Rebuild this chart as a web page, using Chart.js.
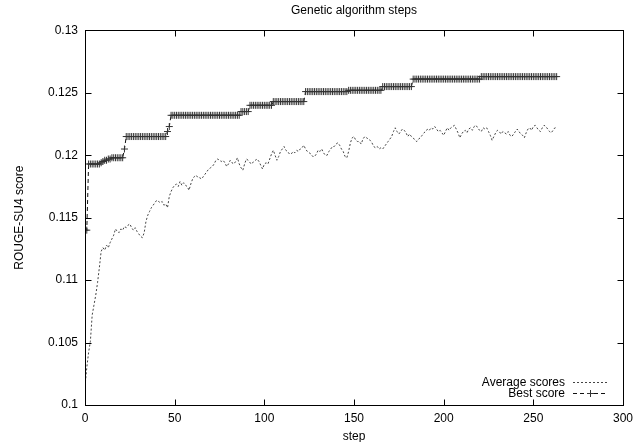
<!DOCTYPE html>
<html>
<head>
<meta charset="utf-8">
<title>Genetic algorithm steps</title>
<script src="https://cdn.jsdelivr.net/npm/chart.js@4/dist/chart.umd.min.js"></script>
<style>
  body { margin: 0; background: #fff; }
  #wrap { width: 634px; height: 442px; }
</style>
</head>
<body>
<div id="wrap"><canvas id="gaChart" width="634" height="442"></canvas></div>
<script>
// Chart data
const seriesNames = ['Average scores', 'Best score'];

const averageScores = [
  0.1015, 0.1030, 0.1042, 0.1051, 0.1072, 0.1080, 0.1088, 0.1098, 0.1110, 0.1123,
  0.1126, 0.1124, 0.1128, 0.1126, 0.1130, 0.1133, 0.1136, 0.1141, 0.1139, 0.1138,
  0.1141, 0.1140, 0.1143, 0.1142, 0.1144, 0.1145, 0.1142, 0.1140, 0.1142, 0.1139,
  0.1137, 0.1135, 0.1134, 0.1138, 0.1147, 0.1152, 0.1155, 0.1158, 0.1160, 0.1162,
  0.1164, 0.1163, 0.1162, 0.1163, 0.1160, 0.1161, 0.1158, 0.1167, 0.1171, 0.1174,
  0.1176, 0.1177, 0.1175, 0.1179, 0.1176, 0.1178, 0.1176, 0.1175, 0.1172, 0.1177,
  0.1181, 0.1183, 0.1184, 0.1182, 0.1182, 0.1181, 0.1183, 0.1185, 0.1187, 0.1189,
  0.1190, 0.1191, 0.1193, 0.1196, 0.1197, 0.1196, 0.1195, 0.1196, 0.1194, 0.1191,
  0.1193, 0.1196, 0.1194, 0.1193, 0.1195, 0.1198, 0.1193, 0.1190, 0.1188, 0.1193,
  0.1197, 0.1196, 0.1194, 0.1193, 0.1195, 0.1196, 0.1197, 0.1195, 0.1192, 0.1189,
  0.1193, 0.1194, 0.1193, 0.1197, 0.1201, 0.1204, 0.1200, 0.1196, 0.1199, 0.1203,
  0.1205, 0.1207, 0.1204, 0.1203, 0.1201, 0.1201, 0.1203, 0.1202, 0.1204, 0.1203,
  0.1205, 0.1206, 0.1208, 0.1205, 0.1203, 0.1202, 0.1201, 0.1199, 0.1199, 0.1201,
  0.1204, 0.1203, 0.1205, 0.1202, 0.1200, 0.1200, 0.1203, 0.1205, 0.1207, 0.1207,
  0.1209, 0.1210, 0.1208, 0.1205, 0.1203, 0.1199, 0.1198, 0.1203, 0.1210, 0.1214,
  0.1215, 0.1212, 0.1211, 0.1211, 0.1209, 0.1213, 0.1215, 0.1214, 0.1213, 0.1212,
  0.1210, 0.1207, 0.1206, 0.1207, 0.1205, 0.1206, 0.1205, 0.1207, 0.1209, 0.1211,
  0.1213, 0.1215, 0.1219, 0.1222, 0.1219, 0.1217, 0.1219, 0.1221, 0.1220, 0.1218,
  0.1215, 0.1217, 0.1215, 0.1214, 0.1212, 0.1211, 0.1213, 0.1214, 0.1216, 0.1218,
  0.1219, 0.1221, 0.1220, 0.1222, 0.1221, 0.1223, 0.1221, 0.1219, 0.1220, 0.1218,
  0.1216, 0.1219, 0.1222, 0.1220, 0.1222, 0.1223, 0.1224, 0.1221, 0.1218, 0.1214,
  0.1217, 0.1219, 0.1220, 0.1218, 0.1221, 0.1222, 0.1220, 0.1223, 0.1224, 0.1222,
  0.1220, 0.1219, 0.1222, 0.1221, 0.1222, 0.1219, 0.1216, 0.1212, 0.1215, 0.1218,
  0.1220, 0.1219, 0.1217, 0.1219, 0.1218, 0.1217, 0.1219, 0.1216, 0.1215, 0.1217,
  0.1219, 0.1221, 0.1219, 0.1217, 0.1216, 0.1214, 0.1218, 0.1221, 0.1222, 0.1220,
  0.1223, 0.1224, 0.1222, 0.1220, 0.1219, 0.1222, 0.1224, 0.1223, 0.1221, 0.1219,
  0.1218, 0.1220, 0.1222, 0.1222
];

const bestScores = [
  0.1140, 0.1140, 0.1193, 0.1193, 0.1193, 0.1193, 0.1193, 0.1193, 0.1193, 0.1194,
  0.1195, 0.1196, 0.1196, 0.1197, 0.1197, 0.1198, 0.1198, 0.1198, 0.1198, 0.1198,
  0.1198, 0.1198, 0.1205, 0.1215, 0.1215, 0.1215, 0.1215, 0.1215, 0.1215, 0.1215,
  0.1215, 0.1215, 0.1215, 0.1215, 0.1215, 0.1215, 0.1215, 0.1215, 0.1215, 0.1215,
  0.1215, 0.1215, 0.1215, 0.1215, 0.1215, 0.1215, 0.1219, 0.1223, 0.1232, 0.1232,
  0.1232, 0.1232, 0.1232, 0.1232, 0.1232, 0.1232, 0.1232, 0.1232, 0.1232, 0.1232,
  0.1232, 0.1232, 0.1232, 0.1232, 0.1232, 0.1232, 0.1232, 0.1232, 0.1232, 0.1232,
  0.1232, 0.1232, 0.1232, 0.1232, 0.1232, 0.1232, 0.1232, 0.1232, 0.1232, 0.1232,
  0.1232, 0.1232, 0.1232, 0.1232, 0.1232, 0.1232, 0.1232, 0.1235, 0.1235, 0.1235,
  0.1235, 0.1235, 0.1240, 0.1240, 0.1240, 0.1240, 0.1240, 0.1240, 0.1240, 0.1240,
  0.1240, 0.1240, 0.1240, 0.1240, 0.1240, 0.1243, 0.1243, 0.1243, 0.1243, 0.1243,
  0.1243, 0.1243, 0.1243, 0.1243, 0.1243, 0.1243, 0.1243, 0.1243, 0.1243, 0.1243,
  0.1243, 0.1243, 0.1243, 0.1251, 0.1251, 0.1251, 0.1251, 0.1251, 0.1251, 0.1251,
  0.1251, 0.1251, 0.1251, 0.1251, 0.1251, 0.1251, 0.1251, 0.1251, 0.1251, 0.1251,
  0.1251, 0.1251, 0.1251, 0.1251, 0.1251, 0.1251, 0.1251, 0.1252, 0.1252, 0.1252,
  0.1252, 0.1252, 0.1252, 0.1252, 0.1252, 0.1252, 0.1252, 0.1252, 0.1252, 0.1252,
  0.1252, 0.1252, 0.1252, 0.1252, 0.1252, 0.1252, 0.1255, 0.1255, 0.1255, 0.1255,
  0.1255, 0.1255, 0.1255, 0.1255, 0.1255, 0.1255, 0.1255, 0.1255, 0.1255, 0.1255,
  0.1255, 0.1255, 0.1255, 0.1261, 0.1261, 0.1261, 0.1261, 0.1261, 0.1261, 0.1261,
  0.1261, 0.1261, 0.1261, 0.1261, 0.1261, 0.1261, 0.1261, 0.1261, 0.1261, 0.1261,
  0.1261, 0.1261, 0.1261, 0.1261, 0.1261, 0.1261, 0.1261, 0.1261, 0.1261, 0.1261,
  0.1261, 0.1261, 0.1261, 0.1261, 0.1261, 0.1261, 0.1261, 0.1261, 0.1261, 0.1261,
  0.1261, 0.1263, 0.1263, 0.1263, 0.1263, 0.1263, 0.1263, 0.1263, 0.1263, 0.1263,
  0.1263, 0.1263, 0.1263, 0.1263, 0.1263, 0.1263, 0.1263, 0.1263, 0.1263, 0.1263,
  0.1263, 0.1263, 0.1263, 0.1263, 0.1263, 0.1263, 0.1263, 0.1263, 0.1263, 0.1263,
  0.1263, 0.1263, 0.1263, 0.1263, 0.1263, 0.1263, 0.1263, 0.1263, 0.1263, 0.1263,
  0.1263, 0.1263, 0.1263, 0.1263
];

// step number for each value (0, 1, 2, ...)
const steps = averageScores.map((v, i) => i);

// axis ranges and tick spacing
const xTicks = { min: 0, max: 300, step: 50 };
const yTicks = { min: 0.1, max: 0.13, step: 0.005 };

const FONT = "'Liberation Sans', Arial, Helvetica, sans-serif";

// gnuplot look: box around the plot, ticks pointing inward on all four sides,
// and the key inside the bottom right corner
const gnuplotFrame = {
  id: 'gnuplotFrame',
  afterDraw(chart) {
    const ctx = chart.ctx;
    const a = chart.chartArea;
    const xs = chart.scales.x, ys = chart.scales.y;
    const L = Math.round(a.left) + 0.5, R = Math.round(a.right) + 0.5;
    const T = Math.round(a.top) + 0.5, B = Math.round(a.bottom) + 0.5;
    const tl = 6;

    ctx.save();
    ctx.strokeStyle = '#000';
    ctx.lineWidth = 1;
    ctx.setLineDash([]);
    ctx.strokeRect(L, T, R - L, B - T);

    ctx.beginPath();
    xs.ticks.forEach(t => {
      const px = Math.round(xs.getPixelForValue(t.value)) + 0.5;
      if (px <= L + 1 || px >= R - 1) return;
      ctx.moveTo(px, B); ctx.lineTo(px, B - tl);
      ctx.moveTo(px, T); ctx.lineTo(px, T + tl);
    });
    ys.ticks.forEach(t => {
      const py = Math.round(ys.getPixelForValue(t.value)) + 0.5;
      if (py <= T + 1 || py >= B - 1) return;
      ctx.moveTo(L, py); ctx.lineTo(L + tl, py);
      ctx.moveTo(R, py); ctx.lineTo(R - tl, py);
    });
    ctx.stroke();

    // key
    ctx.font = '12px ' + FONT;
    ctx.fillStyle = '#000';
    ctx.textAlign = 'right';
    ctx.textBaseline = 'middle';
    chart.data.datasets.forEach((ds, i) => {
      const y = Math.round(a.bottom - 23 + i * 11) + 0.5;
      const x0 = a.right - 50, x1 = a.right - 16;
      ctx.fillText(ds.label, a.right - 58, y);
      ctx.strokeStyle = ds.borderColor;
      ctx.lineWidth = ds.borderWidth;
      ctx.setLineDash(ds.borderDash);
      ctx.beginPath();
      ctx.moveTo(x0, y); ctx.lineTo(x1, y);
      ctx.stroke();
      if (ds.pointRadius > 0) {
        const cx = Math.round((x0 + x1) / 2) + 0.5, r = ds.pointRadius;
        ctx.setLineDash([]);
        ctx.strokeStyle = ds.pointBorderColor;
        ctx.beginPath();
        ctx.moveTo(cx - r, y); ctx.lineTo(cx + r, y);
        ctx.moveTo(cx, y - r); ctx.lineTo(cx, y + r);
        ctx.stroke();
      }
    });
    ctx.restore();
  }
};

const ctx = document.getElementById('gaChart').getContext('2d');

const gaChart = new Chart(ctx, {
  type: 'line',
  data: {
    datasets: [{
      label: seriesNames[0],
      data: steps.map((s, i) => ({ x: s, y: averageScores[i] })),
      borderColor: '#444',
      borderWidth: 1,
      borderDash: [2, 2],
      pointRadius: 0,
      tension: 0
    }, {
      label: seriesNames[1],
      data: steps.map((s, i) => ({ x: s, y: bestScores[i] })),
      borderColor: '#111',
      borderWidth: 1,
      borderDash: [4, 3],
      pointStyle: 'cross',
      pointRadius: 3.5,
      pointBorderWidth: 1,
      pointBorderColor: '#333',
      pointBackgroundColor: '#333',
      tension: 0
    }]
  },
  options: {
    responsive: false,
    animation: false,
    events: [],
    layout: { padding: { left: 0, right: 11, top: 0, bottom: 0 } },
    plugins: {
      legend: { display: false },
      tooltip: { enabled: false },
      title: {
        display: true,
        text: 'Genetic algorithm steps',
        fullSize: false,
        color: '#000',
        font: { family: FONT, size: 12, weight: 'normal' },
        padding: { top: 3, bottom: 13 }
      }
    },
    scales: {
      x: {
        type: 'linear',
        min: xTicks.min,
        max: xTicks.max,
        grid: { display: false, drawTicks: false },
        border: { display: false },
        ticks: {
          stepSize: xTicks.step,
          padding: 6,
          color: '#000',
          maxRotation: 0,
          font: { family: FONT, size: 12 }
        },
        title: {
          display: true,
          text: 'step',
          color: '#000',
          font: { family: FONT, size: 12 },
          padding: { top: 0, bottom: -2 }
        },
        afterFit(scale) {
          scale.height = 37;
          scale.paddingLeft = 0;
          scale.paddingRight = 0;
        }
      },
      y: {
        type: 'linear',
        min: yTicks.min,
        max: yTicks.max,
        grid: { display: false, drawTicks: false },
        border: { display: false },
        ticks: {
          stepSize: yTicks.step,
          padding: 7,
          color: '#000',
          font: { family: FONT, size: 12 },
          callback: v => String(Number(v.toFixed(4)))
        },
        title: {
          display: true,
          text: 'ROUGE-SU4 score',
          color: '#000',
          font: { family: FONT, size: 12 },
          padding: { top: 12, bottom: 0 }
        },
        afterFit(scale) { scale.width = 85; }
      }
    }
  },
  plugins: [gnuplotFrame]
});
</script>
</body>
</html>
